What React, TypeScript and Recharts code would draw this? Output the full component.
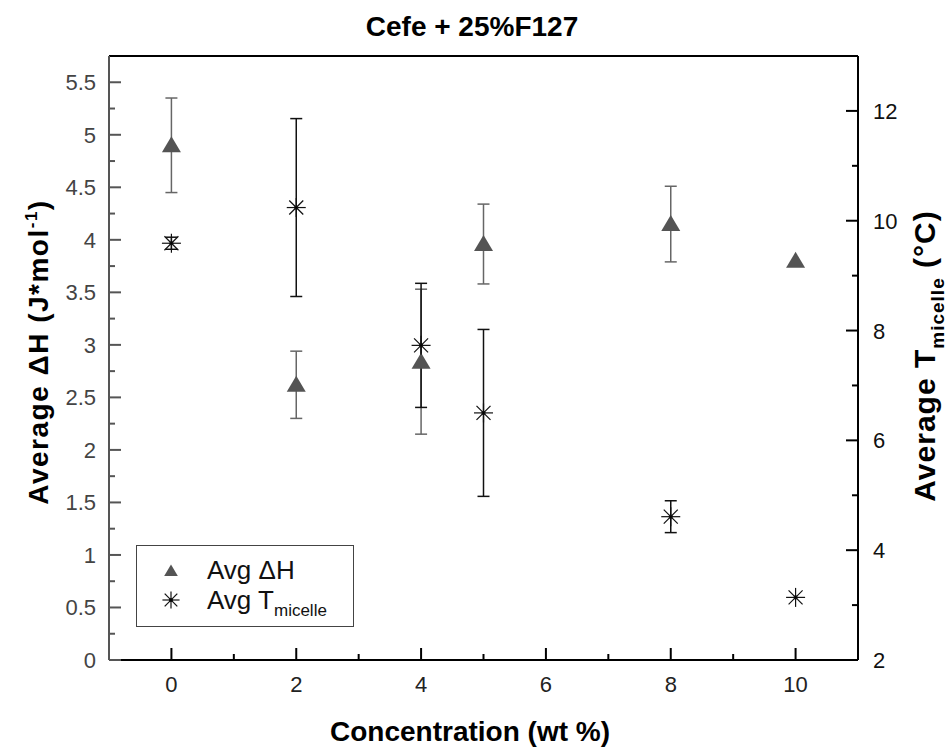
import React from "react";
import { ScatterChart, Scatter, XAxis, YAxis, ErrorBar, ReferenceLine } from "recharts";

const FONT = '"Liberation Sans", Arial, Helvetica, sans-serif';

// Concentration (wt %)
const concentrations = [0, 2, 4, 5, 8, 10];
// Avg ΔH (left axis)
const avgDeltaH = [4.9, 2.62, 2.84, 3.96, 4.15, 3.8];
const deltaHErr = [0.45, 0.32, 0.69, 0.38, 0.36, 0];
// Avg T micelle (right axis)
const avgTMicelle = [9.59, 10.24, 7.73, 6.5, 4.61, 3.14];
const tMicelleErr = [0.11, 1.62, 1.13, 1.52, 0.29, 0];

// ticks: majors get a label, minors don't
const xTicks = [0, 1, 2, 3, 4, 5, 6, 7, 8, 9, 10];
const xTickLabels = ["0", "", "2", "", "4", "", "6", "", "8", "", "10"];
const leftTicks = [0, 0.25, 0.5, 0.75, 1, 1.25, 1.5, 1.75, 2, 2.25, 2.5, 2.75, 3, 3.25, 3.5, 3.75, 4, 4.25, 4.5, 4.75, 5, 5.25, 5.5];
const leftTickLabels = ["0", "", "0.5", "", "1", "", "1.5", "", "2", "", "2.5", "", "3", "", "3.5", "", "4", "", "4.5", "", "5", "", "5.5"];
const rightTicks = [2, 3, 4, 5, 6, 7, 8, 9, 10, 11, 12];
const rightTickLabels = ["2", "", "4", "", "6", "", "8", "", "10", "", "12"];

const dhData = concentrations.map((x, i) => ({ x, y: avgDeltaH[i], err: deltaHErr[i] }));
const tData = concentrations.map((x, i) => ({ x, y: avgTMicelle[i], err: tMicelleErr[i] }));

const Triangle = ({ cx, cy, size = 1 }: any) => (
  <path
    d={`M${cx},${cy - 9 * size} L${cx + 9.5 * size},${cy + 7 * size} L${cx - 9.5 * size},${cy + 7 * size} Z`}
    fill="#545454"
  />
);

const Star = ({ cx, cy, size = 1 }: any) => {
  const r = 9.5 * size;
  const d = 7 * size;
  return (
    <g stroke="#111" strokeWidth={1.2}>
      <line x1={cx - r} y1={cy} x2={cx + r} y2={cy} />
      <line x1={cx} y1={cy - r} x2={cx} y2={cy + r} />
      <line x1={cx - d} y1={cy - d} x2={cx + d} y2={cy + d} />
      <line x1={cx - d} y1={cy + d} x2={cx + d} y2={cy - d} />
      <circle cx={cx} cy={cy} r={1.5} fill="#000" />
    </g>
  );
};

const XTick = ({ x, y, payload }: any) => {
  const i = xTicks.indexOf(payload.value);
  const label = xTickLabels[i];
  return (
    <g>
      <line x1={x} y1={y} x2={x} y2={y - (label ? 12 : 6)} stroke="#000" strokeWidth={2} />
      {label && (
        <text x={x} y={y + 32} textAnchor="middle" fontSize={22} fill="#222" fontFamily={FONT}>
          {label}
        </text>
      )}
    </g>
  );
};

const LeftTick = ({ x, y, payload }: any) => {
  const i = leftTicks.indexOf(payload.value);
  const label = leftTickLabels[i];
  return (
    <g>
      <line x1={x} y1={y} x2={x + (label ? 12 : 6)} y2={y} stroke="#555" strokeWidth={2} />
      {label && (
        <text x={x - 13} y={y + 8} textAnchor="end" fontSize={22} fill="#444" fontFamily={FONT}>
          {label}
        </text>
      )}
    </g>
  );
};

const RightTick = ({ x, y, payload }: any) => {
  const i = rightTicks.indexOf(payload.value);
  const label = rightTickLabels[i];
  return (
    <g>
      <line x1={x} y1={y} x2={x - (label ? 12 : 6)} y2={y} stroke="#000" strokeWidth={2} />
      {label && (
        <text x={x + 15} y={y + 8} textAnchor="start" fontSize={22} fill="#111" fontFamily={FONT}>
          {label}
        </text>
      )}
    </g>
  );
};

const LegendBox = () => (
  <div
    style={{
      position: "absolute",
      left: 136,
      top: 545,
      width: 218,
      height: 82,
      border: "1px solid #444",
      background: "#fff",
      fontFamily: FONT,
      fontSize: 26,
      color: "#111",
      boxSizing: "border-box",
      lineHeight: 1,
    }}
  >
    <div style={{ display: "flex", alignItems: "center", height: 28, marginTop: 10 }}>
      <svg width={70} height={28}>
        <Triangle cx={34} cy={15} size={0.72} />
      </svg>
      <span>Avg ΔH</span>
    </div>
    <div style={{ display: "flex", alignItems: "center", height: 28, marginTop: 2 }}>
      <svg width={70} height={28}>
        <Star cx={34} cy={14} size={0.9} />
      </svg>
      <span>
        Avg T<span style={{ fontSize: 17, position: "relative", top: 7 }}>micelle</span>
      </span>
    </div>
  </div>
);

export default function App() {
  return (
    <div style={{ position: "absolute", left: 0, top: 0, width: 949, height: 748, background: "#fff" }}>
      <ScatterChart width={949} height={748} margin={{ top: 56, right: 0, bottom: 0, left: 0 }}>
        <XAxis
          type="number"
          dataKey="x"
          domain={[-1, 11]}
          ticks={xTicks}
          tick={<XTick />}
          tickLine={false}
          tickSize={0}
          tickMargin={0}
          height={88}
          axisLine={{ stroke: "#000", strokeWidth: 2 }}
          allowDataOverflow
        />
        <YAxis
          yAxisId="left"
          type="number"
          dataKey="y"
          domain={[0, 5.75]}
          ticks={leftTicks}
          tick={<LeftTick />}
          tickLine={false}
          tickSize={0}
          tickMargin={0}
          width={109}
          axisLine={{ stroke: "#555", strokeWidth: 2 }}
          allowDataOverflow
          interval={0}
        />
        <YAxis
          yAxisId="right"
          orientation="right"
          type="number"
          dataKey="y"
          domain={[2, 13]}
          ticks={rightTicks}
          tick={<RightTick />}
          tickLine={false}
          tickSize={0}
          tickMargin={0}
          width={91}
          axisLine={{ stroke: "#000", strokeWidth: 2 }}
          allowDataOverflow
          interval={0}
        />
        <ReferenceLine yAxisId="left" y={5.75} stroke="#000" strokeWidth={2} ifOverflow="visible" />
        <Scatter
          name="Avg ΔH"
          data={dhData}
          yAxisId="left"
          shape={(p: any) => <Triangle cx={p.cx} cy={p.cy} />}
          isAnimationActive={false}
        >
          <ErrorBar dataKey="err" direction="y" width={6} stroke="#666" strokeWidth={1.5} />
        </Scatter>
        <Scatter
          name="Avg T micelle"
          data={tData}
          yAxisId="right"
          shape={(p: any) => <Star cx={p.cx} cy={p.cy} />}
          isAnimationActive={false}
        >
          <ErrorBar dataKey="err" direction="y" width={6} stroke="#111" strokeWidth={1.5} />
        </Scatter>
      </ScatterChart>
      <LegendBox />
      <svg
        width={949}
        height={748}
        style={{ position: "absolute", left: 0, top: 0, pointerEvents: "none" }}
        fontFamily={FONT}
        fontWeight="bold"
        fill="#000"
        xmlSpace="preserve"
      >
        <text x={472} y={36} textAnchor="middle" fontSize={28}>
          Cefe + 25%F127
        </text>
        <text x={470} y={741} textAnchor="middle" fontSize={28}>
          Concentration (wt %)
        </text>
        <text transform="translate(38,352) rotate(-90)" textAnchor="middle" dy="0.35em" fontSize={28} letterSpacing={1.5}>
          {"Average  ΔH (J*mol"}
          <tspan fontSize={17} dy={-11}>-1</tspan>
          <tspan dy={11}>)</tspan>
        </text>
        <text transform="translate(924,356) rotate(-90)" textAnchor="middle" dy="0.35em" fontSize={30} letterSpacing={1}>
          {"Average T"}
          <tspan fontSize={19} dy={9}>micelle</tspan>
          <tspan dy={-9}>{" (°C)"}</tspan>
        </text>
      </svg>
    </div>
  );
}
